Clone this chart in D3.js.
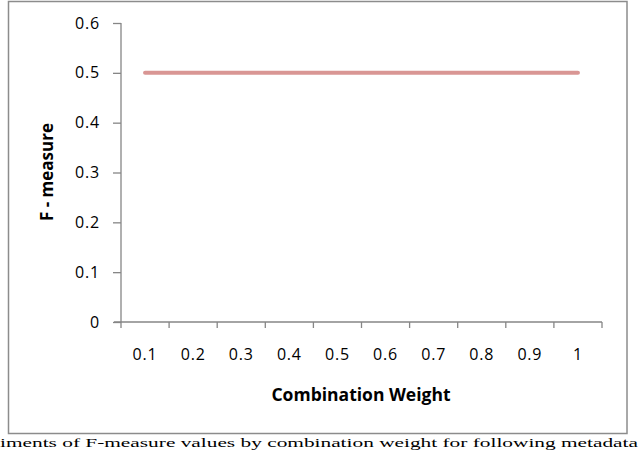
<!DOCTYPE html>
<html><head><meta charset="utf-8">
<script src="https://cdn.jsdelivr.net/npm/d3@7"></script>
<style>body{margin:0;background:#fff;} svg{display:block;}</style>
</head><body>
<script>
const categories = ["0.1","0.2","0.3","0.4","0.5","0.6","0.7","0.8","0.9","1"];
const fMeasure = [0.5,0.5,0.5,0.5,0.5,0.5,0.5,0.5,0.5,0.5];
const yTicks = [0,0.1,0.2,0.3,0.4,0.5,0.6];
const yTitle = "F - measure";
const xTitle = "Combination Weight";
const caption = "iments of F-measure values by combination weight for following metadata";

const W = 640, H = 451;
const svg = d3.select("body").append("svg").attr("width", W).attr("height", H);
const font = "'Open Sans', 'Noto Sans', sans-serif";

svg.append("rect").attr("x", 8.5).attr("y", 1.5).attr("width", 618.5).attr("height", 432)
  .attr("fill", "none").attr("stroke", "#8c8c8c").attr("stroke-width", 1.5);

const x = d3.scaleBand().domain(categories).range([121, 602]);
const y = d3.scaleLinear().domain([0, 0.6]).range([322, 23]);

const yAxis = svg.append("g").attr("transform", "translate(121,0)")
  .call(d3.axisLeft(y).tickValues(yTicks).tickFormat(d => d === 0 ? "0" : d3.format(".1f")(d)).tickSize(8).tickPadding(13));
const xAxis = svg.append("g").attr("transform", "translate(0,322)")
  .call(d3.axisBottom(x).tickSize(0).tickPadding(27));
xAxis.selectAll(".bt").data(d3.range(categories.length + 1)).enter().append("line")
  .attr("x1", i => 121 + i * x.step()).attr("x2", i => 121 + i * x.step())
  .attr("y1", 0).attr("y2", 6).attr("stroke", "#868686").attr("stroke-width", 1.3);

[yAxis, xAxis].forEach(g => {
  g.select(".domain").attr("stroke", "#868686").attr("stroke-width", 1.3);
  g.selectAll(".tick line").attr("stroke", "#868686").attr("stroke-width", 1.3);
  g.selectAll("text").attr("font-family", font).attr("font-size", 16).attr("letter-spacing", 0.8).attr("fill", "#000");
});
yAxis.select(".domain").attr("d", "M0,23V322");
xAxis.select(".domain").attr("d", "M114,0H602");

const line = d3.line().x((d, i) => x(categories[i]) + x.bandwidth() / 2).y(d => y(d));
svg.append("path").datum(fMeasure).attr("d", line).attr("fill", "none")
  .attr("stroke", "#d99694").attr("stroke-width", 4).attr("stroke-linecap", "round");

svg.append("text").attr("transform", "translate(53,172) rotate(-90)").attr("text-anchor", "middle")
  .attr("font-family", font).attr("font-weight", "bold").attr("font-size", 17).text(yTitle);
svg.append("text").attr("x", 361).attr("y", 401).attr("text-anchor", "middle")
  .attr("font-family", font).attr("font-weight", "bold").attr("font-size", 17.5).text(xTitle);

svg.append("text").attr("x", 0).attr("y", 447).attr("font-family", "'Liberation Serif', serif")
  .attr("font-size", 13).attr("textLength", 638).attr("lengthAdjust", "spacingAndGlyphs").text(caption);
</script>
</body></html>
